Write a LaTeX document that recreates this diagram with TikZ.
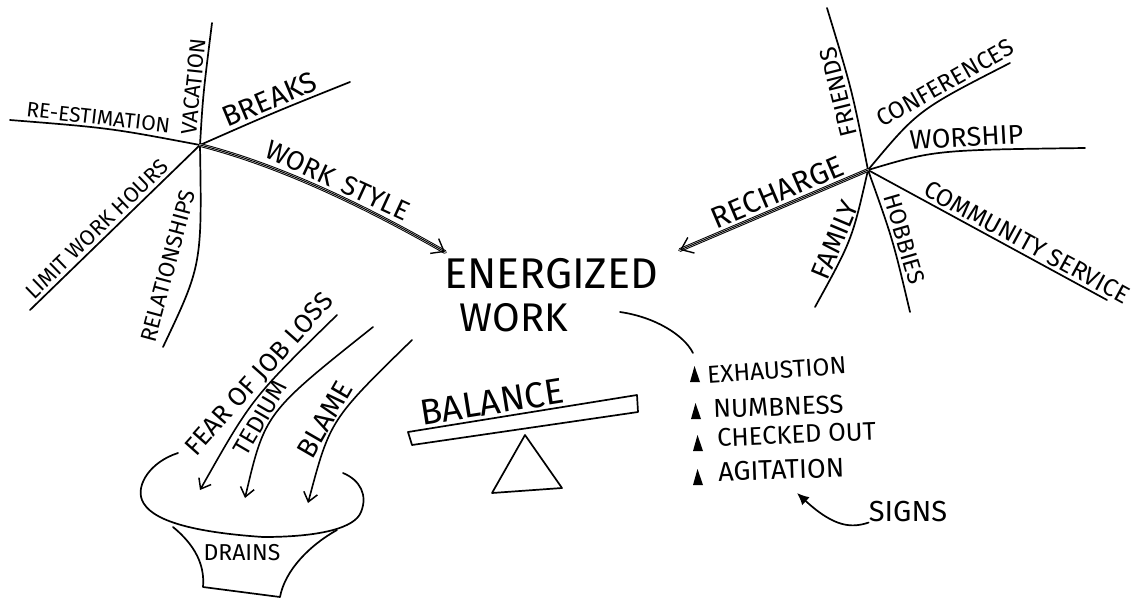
\documentclass[tikz,border=0pt]{standalone}
\usepackage{fontspec}
\setmainfont{Fira Sans}
\usetikzlibrary{arrows.meta}
\begin{document}
\begin{tikzpicture}[x=1pt,y=-1pt,line cap=round,line join=round,
  br/.style={line width=1.7pt},
  dbl/.style={line width=1pt,double=white,double distance=1.8pt},
  mid/.style={line width=1pt,-{Straight Barb[length=11pt,width=17pt,line width=1.4pt]}},
  drn/.style={line width=1.6pt,-{Straight Barb[length=9pt,width=14pt,line width=1.5pt]}},
  lbl/.style={inner sep=0pt,font=\fontsize{#1}{#1}\selectfont},
  on/.style={sloped,above=#1}]
\useasboundingbox (0,0) rectangle (1138,603);

% ---------- left hub ----------
\coordinate (L) at (200,145);
\coordinate (Lvac) at (212,23);
\coordinate (Lbrk) at (350,82);
\coordinate (Lre) at (10,120);
\coordinate (Llim) at (30,310);
\coordinate (Lrel) at (163,347);
\coordinate (wsTip) at (445,252);
\draw[br] (L) .. controls (203,95) .. (Lvac)
  node[lbl=22,on=2pt,pos=0.55] (vac) {VACATION};
\draw[br] (L) .. controls (275,112) .. (Lbrk)
  node[lbl=29,on=3pt,pos=0.5] (brk) {BREAKS};
\draw[br] (L) .. controls (110,128) .. (Lre)
  node[lbl=21,on=2pt,pos=0.58] (rest) {RE-ESTIMATION};
\draw[br] (L) -- (Llim)
  node[lbl=21.5,on=3pt,pos=0.56] (lim) {LIMIT WORK HOURS};
\draw[br] (L) .. controls (202,265) .. (Lrel);
\node[lbl=22.5,rotate=75] (rel) at (168,266) {RELATIONSHIPS};
\draw[dbl] (L) .. controls (290,168) and (380,215) .. (wsTip);
\draw[mid] (L) .. controls (290,168) and (380,215) .. (wsTip)
  node[lbl=27,on=4pt,pos=0.5] (ws) {WORK\hspace{0.4em}STYLE};

% ---------- right hub ----------
\coordinate (R) at (868,170);
\coordinate (Rfr) at (827,8);
\coordinate (Rhob) at (910,312);
\coordinate (Rcon) at (1010,63);
\coordinate (Rwor) at (1085,148);
\coordinate (Rcom) at (1107,300);
\coordinate (Rfam) at (815,307);
\coordinate (rcTip) at (680,250);
\coordinate (frB) at (847,90);
\draw[br] (R) .. controls (852,90) .. (Rfr);
\node[lbl=24,rotate=104,anchor=south] (fr) at (frB) {FRIENDS};
\draw[br] (R) .. controls (893,240) .. (Rhob)
  node[lbl=23.5,on=3pt,pos=0.52] (hob) {HOBBIES};
\draw[br] (R) .. controls (918,110) .. (Rcon)
  node[lbl=24,on=3pt,pos=0.72] (con) {CONFERENCES};
\draw[br] (R) .. controls (935,150) .. (Rwor)
  node[lbl=27,on=3pt,pos=0.62] (wor) {WORSHIP};
\draw[br] (R) -- (Rcom)
  node[lbl=24.5,on=3pt,pos=0.64] (com) {COMMUNITY SERVICE};
\draw[br] (R) .. controls (852,240) .. (Rfam)
  node[lbl=27,on=3pt,pos=0.55] (fam) {FAMILY};
\draw[dbl] (R) -- (rcTip);
\draw[mid] (R) -- (rcTip)
  node[lbl=30,on=4pt,pos=0.45] (rch) {RECHARGE};

% ---------- centre ----------
\node[lbl=43] (ener) at (551,274) {ENERGIZED};
\node[lbl=40] (wk) at (514,318) {WORK};

% ---------- signs ----------
\coordinate (c1) at (620,312);
\coordinate (c2) at (693,353);
\draw[br] (c1) .. controls (655,317) and (684,335) .. (c2);
\foreach \y/\x in {374/695,411/696,443/698,477/698}{
  \fill (\x-5,\y+8) -- (\x-0.5,\y-8) -- (\x+5,\y+8) -- cycle;}
\node[lbl=24.5,anchor=west,rotate=4] (exh) at (707,375) {EXHAUSTION};
\node[lbl=26,anchor=west,rotate=2] (numb) at (713,409) {NUMBNESS};
\node[lbl=25.5,anchor=west,rotate=2.5] (chk) at (717,438) {CHECKED OUT};
\node[lbl=27,anchor=west,rotate=2] (agi) at (718,472) {AGITATION};
\node[lbl=29] (signs) at (908,512) {SIGNS};
\coordinate (sTip) at (797,493);
\draw[br,-{Latex[length=12pt,width=11pt]}] (signs.south west) .. controls (852,528) and (835,528) .. (sTip);

% ---------- balance ----------
\draw[br] (408,432) -- (637,395) -- (638,412) -- (412,445) -- cycle;
\node[lbl=36,rotate=9] (bal) at (492,402) {BALANCE};
\draw[br] (525,435) -- (492,493) -- (562,488) -- cycle;

% ---------- drains ----------
\coordinate (fT) at (337,315); \coordinate (fB) at (200,490);
\coordinate (tT) at (373,327); \coordinate (tB) at (245,498);
\coordinate (bT) at (412,340); \coordinate (bB) at (308,503);
\draw[drn] (fT) .. controls (252,398) .. (fB)
  node[lbl=26,on=1pt,pos=0.38] (fear) {FEAR OF JOB LOSS};
\draw[drn] (tT) .. controls (265,413) .. (tB)
  node[lbl=24,on=1pt,pos=0.58] (ted) {TEDIUM};
\draw[drn] (bT) .. controls (330,420) .. (bB)
  node[lbl=28,on=1pt,pos=0.54] (blm) {BLAME};

% funnel
\draw[br] (178,453) .. controls (150,462) and (136,485) .. (142,500)
  .. controls (150,520) and (190,532) .. (263,537)
  .. controls (320,537) and (355,528) .. (361,512)
  .. controls (368,495) and (360,480) .. (343,473);
\draw[br] (173,527) .. controls (195,545) and (205,565) .. (203,587)
  -- (280,597) .. controls (285,570) and (310,545) .. (337,530);
\node[lbl=23] (drains) at (242,553) {DRAINS};
\end{tikzpicture}
\end{document}
